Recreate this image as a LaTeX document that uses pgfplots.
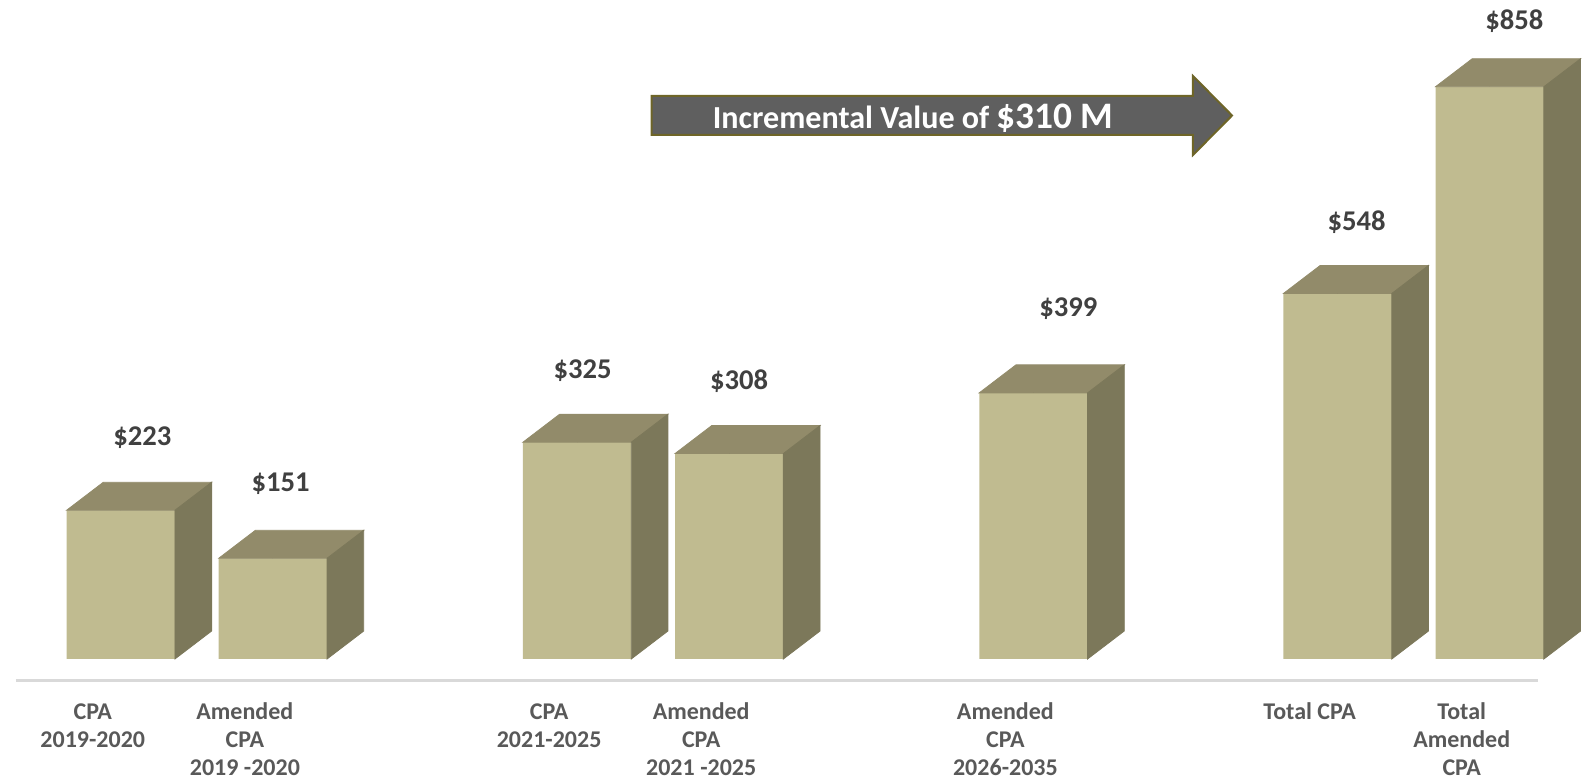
\documentclass[border=0pt]{standalone}
\usepackage{fontspec}
\setmainfont{Carlito}
\usepackage{pgfplots}
\usepackage{pgfplotstable}
\pgfplotsset{compat=1.18}

\definecolor{frontc}{HTML}{C0BB90}
\definecolor{topc}{HTML}{928B6A}
\definecolor{sidec}{HTML}{7C785A}
\definecolor{axisc}{HTML}{D9D9D9}
\definecolor{valc}{HTML}{404040}
\definecolor{labc}{HTML}{595959}
\definecolor{arrowc}{HTML}{5F5F5F}
\definecolor{arrowedge}{HTML}{6E6528}

% slot, value (millions), label offsets in pt
\pgfplotstableread{
x y dx dy
0 223 10.85 32.5
1 151 3.85 33.6
3 325 2.75 32
4 308 5 32
6 399 17.5 38
8 548 9.5 31.3
9 858 12.35 28.7
}\cpadata

\begin{document}
\begin{tikzpicture}
\begin{axis}[
    scale only axis,
    x=76.05pt, y=0.3335pt,
    xmin=-0.794, xmax=9.633,
    ymin=-179.9, ymax=988,
    axis line style={draw=none},
    major tick length=0pt,
    ytick=\empty,
    xtick={0,1,3,4,6,8,9},
    xticklabels={{CPA\\2019-2020},{Amended\\CPA\\2019 -2020},{CPA\\2021-2025},{Amended\\CPA\\2021 -2025},{Amended\\CPA\\2026-2035},{Total CPA},{Total\\Amended\\CPA}},
    typeset ticklabels with strut,
    xticklabel style={font=\fontsize{12}{14}\selectfont\bfseries, text=labc, align=center,
        anchor=north, inner sep=0pt, xshift=-14pt, yshift=39.65pt},
    clip=false,
]

% category axis line
\addplot[axisc, line width=1.5pt, forget plot] coordinates {(-0.689,-31.5) (9.317,-31.5)};

% front faces with value labels
\addplot[ybar, bar width=0.712, fill=frontc, draw=none,
    point meta=explicit symbolic,
    nodes near coords={\$\pgfplotspointmeta},
    visualization depends on={\thisrow{dx} \as \ldx},
    visualization depends on={\thisrow{dy} \as \ldy},
    every node near coord/.append style={anchor=base, xshift=\ldx pt, yshift=\ldy pt,
        font=\fontsize{14.3}{16}\selectfont\bfseries, text=valc, inner sep=0pt},
] table[x=x, y=y, meta=y] {\cpadata};

% top and side faces
\addplot[scatter, only marks, mark=*, mark size=0pt,
    visualization depends on={\thisrow{y} \as \hval},
    scatter/@pre marker code/.code={%
        \pgfmathsetmacro\hpt{\hval*0.3335}%
        \fill[topc] (-27.08pt,0pt) -- (27.08pt,0pt) -- (45.43pt,14pt) -- (-8.73pt,14pt) -- cycle;
        \fill[sidec] (27.08pt,0pt) -- (45.43pt,14pt) -- ({45.43pt},{14pt-\hpt pt}) -- ({27.08pt},{-\hpt pt}) -- cycle;
    },
    scatter/@post marker code/.code={},
] table[x=x, y=y] {\cpadata};

% incremental value arrow
\draw[fill=arrowc, draw=arrowedge, line width=1pt]
    (axis cs:3.490,844.1) -- (axis cs:7.049,844.1) -- (axis cs:7.049,874.1)
    -- (axis cs:7.306,814.8) -- (axis cs:7.049,755.6) -- (axis cs:7.049,785.6)
    -- (axis cs:3.490,785.6) -- cycle;
\node[anchor=base, text=white, inner sep=0pt, font=\fontsize{16.05}{18}\selectfont\bfseries]
    at (axis cs:5.21,795.7) {Incremental Value of {\fontsize{18.7}{20}\selectfont\$310 M}};

\end{axis}
\pgfresetboundingbox
\path (current axis.south west) rectangle (current axis.north east);
\end{tikzpicture}
\end{document}
